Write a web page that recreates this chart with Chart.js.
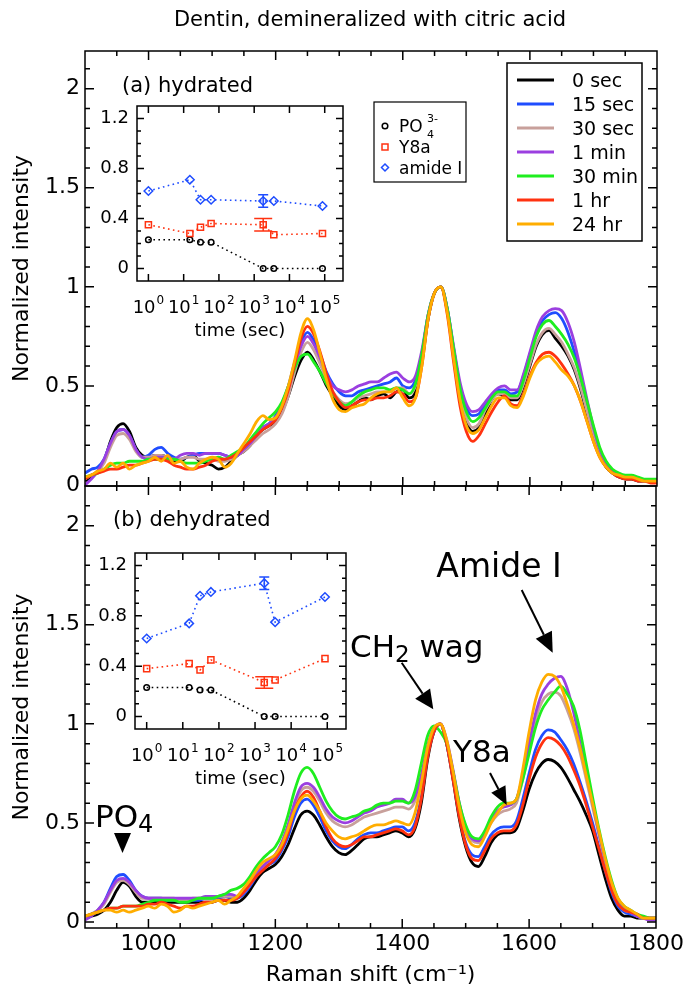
<!DOCTYPE html>
<html>
<head>
<meta charset="utf-8">
<title>Dentin, demineralized with citric acid</title>
<script src="https://cdn.jsdelivr.net/npm/chart.js@4.4.1/dist/chart.umd.min.js"></script>
<style>
  html, body { margin: 0; padding: 0; background: #ffffff; }
  #page { position: relative; width: 687px; height: 992px; overflow: hidden; background: #ffffff; }
  #page canvas, #page svg { position: absolute; left: 0; top: 0; }
</style>
</head>
<body>
<div id="page">
  <canvas id="mainTop" width="687" height="992"></canvas>
  <canvas id="mainBottom" width="687" height="992"></canvas>
  <canvas id="insetTop" width="687" height="992"></canvas>
  <canvas id="insetBottom" width="687" height="992"></canvas>
  <svg id="notes" width="687" height="992" xmlns="http://www.w3.org/2000/svg" font-family="DejaVu Sans, sans-serif"></svg>
</div>
<script>
// ---------------- data ----------------
const shift = [900,910,920,930,940,950,960,970,980,990,
  1000,1010,1020,1030,1040,1050,1060,1070,1080,1090,
  1100,1110,1120,1130,1140,1150,1160,1170,1180,1190,
  1200,1210,1220,1230,1240,1250,1260,1270,1280,1290,
  1300,1310,1320,1330,1340,1350,1360,1370,1380,1390,
  1400,1410,1420,1430,1440,1450,1460,1470,1480,1490,
  1500,1510,1520,1530,1540,1550,1560,1570,1580,1590,
  1600,1610,1620,1630,1640,1650,1660,1670,1680,1690,
  1700,1710,1720,1730,1740,1750,1760,1770,1780,1790,1800];

const seriesNames = ['0 sec', '15 sec', '30 sec', '1 min', '30 min', '1 hr', '24 hr'];
const seriesColors = ['#000000', '#1f4dff', '#c8a09b', '#9b3fe0', '#1fee1f', '#ff3210', '#ffad00'];

// (a) hydrated
const hyd0sec = [.02,.04,.07,.12,.22,.29,.31,.27,.19,.15,
  .14,.15,.15,.14,.12,.12,.14,.15,.12,.11,
  .10,.08,.09,.12,.15,.17,.20,.25,.28,.30,
  .32,.37,.45,.55,.63,.67,.63,.57,.50,.45,
  .40,.38,.40,.42,.44,.43,.45,.46,.44,.47,
  .48,.44,.47,.62,.84,.97,1.00,.88,.66,.45,
  .32,.27,.29,.36,.43,.46,.45,.43,.43,.50,
  .60,.70,.76,.78,.74,.70,.65,.58,.48,.36,
  .24,.15,.09,.06,.04,.03,.03,.02,.02,.02,.02];
const hyd15sec = [.06,.08,.09,.13,.21,.27,.28,.25,.18,.14,
  .15,.18,.19,.16,.14,.13,.14,.15,.16,.16,
  .16,.16,.15,.14,.15,.18,.21,.25,.29,.31,
  .35,.41,.50,.62,.72,.77,.73,.66,.57,.51,
  .47,.45,.45,.47,.48,.49,.50,.51,.52,.54,
  .50,.49,.53,.66,.86,.97,1.00,.89,.69,.50,
  .39,.35,.36,.41,.45,.48,.48,.46,.47,.55,
  .66,.76,.83,.86,.87,.84,.77,.67,.54,.40,
  .27,.17,.10,.07,.05,.04,.04,.03,.02,.02,.02];
const hyd30sec = [.03,.05,.07,.11,.19,.25,.26,.23,.17,.14,
  .14,.15,.15,.14,.13,.13,.14,.14,.13,.13,
  .13,.12,.12,.13,.15,.17,.20,.23,.26,.28,
  .31,.36,.45,.57,.67,.72,.68,.61,.53,.47,
  .43,.41,.42,.44,.45,.46,.47,.47,.47,.49,
  .49,.46,.50,.64,.85,.97,1.00,.88,.67,.47,
  .34,.29,.31,.38,.43,.46,.46,.44,.44,.51,
  .61,.71,.77,.79,.76,.72,.66,.59,.49,.37,
  .25,.16,.10,.06,.05,.04,.04,.03,.02,.02,.02];
const hyd1min = [.00,.03,.07,.13,.21,.27,.28,.25,.18,.14,
  .13,.14,.14,.14,.13,.15,.16,.16,.15,.16,
  .16,.16,.15,.14,.15,.18,.21,.25,.29,.31,
  .34,.40,.49,.60,.70,.75,.71,.64,.56,.50,
  .48,.47,.48,.50,.51,.52,.52,.54,.56,.57,
  .54,.52,.55,.68,.86,.97,1.00,.89,.70,.52,
  .41,.37,.38,.42,.46,.49,.50,.48,.48,.56,
  .67,.78,.85,.88,.89,.88,.82,.72,.58,.43,
  .29,.18,.11,.07,.05,.04,.04,.03,.02,.02,.02];
const hyd30min = [.04,.05,.06,.08,.10,.11,.11,.12,.12,.12,
  .13,.13,.13,.13,.13,.12,.11,.11,.11,.12,
  .13,.14,.13,.15,.17,.19,.23,.27,.31,.34,
  .37,.42,.50,.59,.65,.66,.62,.57,.51,.46,
  .42,.40,.42,.45,.47,.48,.49,.49,.48,.49,
  .48,.46,.51,.66,.86,.97,1.00,.89,.69,.49,
  .37,.32,.34,.39,.44,.47,.47,.45,.45,.53,
  .64,.75,.81,.83,.80,.76,.71,.64,.54,.42,
  .30,.19,.12,.08,.06,.05,.05,.04,.03,.03,.03];
const hyd1hr = [.03,.05,.06,.07,.08,.08,.09,.10,.10,.11,
  .12,.13,.13,.12,.10,.09,.08,.08,.09,.10,
  .12,.13,.13,.14,.16,.19,.22,.25,.28,.30,
  .33,.39,.48,.61,.74,.80,.76,.67,.56,.47,
  .42,.39,.40,.42,.43,.43,.44,.44,.45,.47,
  .46,.42,.44,.60,.84,.97,1.00,.86,.62,.40,
  .27,.22,.25,.31,.37,.42,.45,.41,.40,.46,
  .55,.62,.66,.67,.65,.61,.56,.50,.42,.32,
  .22,.14,.09,.06,.04,.03,.03,.02,.02,.01,.01];
const hyd24hr = [.04,.05,.07,.08,.11,.09,.11,.08,.10,.11,
  .12,.14,.12,.15,.11,.12,.09,.08,.11,.13,
  .14,.13,.09,.11,.16,.21,.26,.32,.35,.33,
  .34,.40,.50,.63,.77,.84,.78,.66,.53,.43,
  .38,.37,.39,.40,.41,.44,.46,.47,.47,.49,
  .44,.40,.44,.60,.84,.97,1.00,.87,.64,.43,
  .30,.26,.28,.34,.40,.44,.44,.40,.39,.45,
  .54,.61,.64,.65,.62,.58,.55,.50,.42,.32,
  .22,.14,.09,.06,.05,.04,.04,.03,.02,.02,.02];

// (b) dehydrated
const dehyd0sec = [.02,.03,.04,.06,.10,.16,.20,.18,.13,.10,
  .10,.10,.11,.10,.10,.10,.10,.10,.10,.10,
  .10,.11,.11,.10,.10,.12,.16,.21,.25,.27,
  .29,.33,.39,.47,.54,.56,.54,.49,.43,.38,
  .35,.34,.36,.39,.42,.43,.43,.44,.45,.46,
  .45,.43,.47,.60,.82,.96,1.00,.90,.72,.52,
  .38,.30,.28,.33,.40,.44,.45,.45,.47,.56,
  .67,.75,.80,.82,.81,.78,.73,.67,.61,.54,
  .46,.34,.22,.12,.06,.03,.03,.02,.02,.02,.02];
const dehyd15sec = [.02,.04,.06,.10,.17,.23,.24,.21,.16,.13,
  .12,.12,.12,.11,.11,.11,.11,.11,.11,.12,
  .12,.12,.13,.12,.12,.14,.18,.23,.27,.29,
  .31,.36,.43,.53,.60,.62,.59,.53,.46,.41,
  .38,.37,.39,.42,.44,.45,.45,.46,.47,.48,
  .48,.46,.50,.63,.84,.96,1.00,.90,.73,.54,
  .40,.34,.33,.38,.44,.47,.48,.48,.51,.62,
  .75,.87,.94,.97,.96,.92,.87,.80,.71,.61,
  .50,.38,.26,.15,.08,.05,.04,.03,.02,.02,.02];
const dehyd30sec = [.02,.04,.06,.09,.15,.20,.21,.19,.15,.12,
  .12,.12,.12,.12,.12,.11,.11,.12,.12,.12,
  .12,.13,.13,.13,.13,.15,.19,.24,.28,.31,
  .34,.40,.48,.58,.66,.68,.66,.61,.55,.51,
  .49,.48,.49,.51,.53,.54,.55,.56,.57,.58,
  .58,.57,.61,.72,.88,.97,1.00,.91,.76,.59,
  .47,.41,.40,.44,.50,.54,.56,.57,.60,.72,
  .88,1.02,1.11,1.15,1.16,1.14,1.07,.98,.86,.72,
  .58,.44,.30,.18,.10,.06,.05,.03,.02,.02,.02];
const dehyd1min = [.01,.03,.06,.10,.16,.21,.22,.20,.16,.13,
  .12,.12,.12,.12,.12,.12,.12,.12,.12,.13,
  .13,.13,.14,.14,.13,.15,.19,.24,.28,.31,
  .34,.40,.49,.60,.68,.70,.68,.63,.57,.53,
  .51,.50,.51,.53,.55,.56,.58,.59,.60,.62,
  .62,.60,.63,.74,.89,.98,1.00,.92,.77,.60,
  .48,.42,.41,.45,.51,.56,.58,.59,.62,.74,
  .90,1.05,1.15,1.20,1.23,1.24,1.18,1.06,.91,.75,
  .60,.45,.31,.19,.11,.07,.05,.03,.02,.01,.01];
const dehyd30min = [.03,.04,.05,.06,.07,.07,.08,.08,.08,.09,
  .10,.11,.11,.11,.11,.10,.10,.11,.12,.12,
  .12,.13,.14,.16,.17,.19,.23,.28,.32,.35,
  .38,.44,.54,.66,.75,.78,.75,.68,.61,.56,
  .53,.52,.53,.54,.56,.57,.59,.60,.60,.61,
  .61,.60,.66,.80,.94,.99,.96,.90,.76,.60,
  .49,.43,.42,.46,.53,.58,.60,.60,.62,.72,
  .85,.98,1.07,1.12,1.16,1.19,1.15,1.09,.97,.80,
  .63,.47,.33,.21,.12,.08,.06,.04,.03,.02,.02];
const dehyd1hr = [.03,.04,.05,.06,.07,.07,.08,.08,.08,.08,
  .09,.09,.10,.09,.08,.07,.08,.08,.09,.10,
  .10,.11,.11,.11,.12,.15,.19,.23,.26,.29,
  .32,.37,.45,.56,.63,.66,.63,.56,.48,.42,
  .39,.38,.39,.41,.43,.43,.44,.45,.46,.47,
  .46,.44,.48,.62,.83,.96,1.00,.90,.72,.53,
  .39,.32,.31,.36,.42,.45,.46,.46,.49,.59,
  .72,.83,.90,.93,.92,.89,.84,.77,.69,.59,
  .48,.37,.26,.16,.09,.06,.05,.04,.02,.02,.02];
const dehyd24hr = [.03,.04,.05,.06,.06,.05,.06,.05,.06,.07,
  .08,.07,.09,.08,.05,.06,.08,.07,.08,.09,
  .10,.11,.09,.11,.13,.17,.21,.26,.30,.32,
  .34,.39,.47,.56,.62,.64,.61,.56,.50,.46,
  .43,.42,.43,.44,.46,.48,.49,.49,.50,.51,
  .50,.49,.55,.70,.88,.98,1.00,.92,.76,.58,
  .45,.39,.38,.43,.50,.55,.59,.60,.62,.77,
  .96,1.12,1.21,1.25,1.24,1.19,1.10,1.00,.88,.74,
  .60,.46,.32,.20,.12,.08,.06,.04,.02,.02,.02];

const hydrated = [hyd0sec, hyd15sec, hyd30sec, hyd1min, hyd30min, hyd1hr, hyd24hr];
const dehydrated = [dehyd0sec, dehyd15sec, dehyd30sec, dehyd1min, dehyd30min, dehyd1hr, dehyd24hr];

const shiftTicks = [1000, 1200, 1400, 1600, 1800];
const intensityTicks = [0, 0.5, 1, 1.5, 2];

// insets: peak ratios vs time
const times = [1, 15, 30, 60, 1800, 3600, 86400];
const po4Hyd   = [0.23, 0.23, 0.21, 0.21, 0.00, 0.00, 0.00];
const y8aHyd   = [0.35, 0.28, 0.33, 0.36, 0.35, 0.27, 0.28];
const amideHyd = [0.62, 0.71, 0.55, 0.55, 0.54, 0.54, 0.50];
const y8aHydErr   = [0, 0, 0, 0, 0.05, 0, 0];
const amideHydErr = [0, 0, 0, 0, 0.05, 0, 0];
const po4Dehyd   = [0.23, 0.23, 0.21, 0.21, 0.00, 0.00, 0.00];
const y8aDehyd   = [0.38, 0.42, 0.37, 0.45, 0.27, 0.29, 0.46];
const amideDehyd = [0.62, 0.74, 0.96, 0.99, 1.06, 0.75, 0.95];
const y8aDehydErr   = [0, 0, 0, 0, 0.045, 0, 0];
const amideDehydErr = [0, 0, 0, 0, 0.05, 0, 0];
const ratioTicks = [0, 0.4, 0.8, 1.2];
const timeTicks = [1, 10, 100, 1000, 10000, 100000];
const insetNames = ['amide I', 'Y8a', 'PO4'];

// ---------------- drawing ----------------
const FONT = '"DejaVu Sans", sans-serif';
Chart.defaults.font.family = FONT;
Chart.defaults.color = '#000';

const mainMinorX = []; for (let v = 950; v < 1800; v += 50) if (v % 200 !== 0) mainMinorX.push(v);
const mainMinorY = []; for (let k = 1; k <= 21; k++) if (k % 5 !== 0) mainMinorY.push(k / 10);
const insetMinorY = []; for (let k = 1; k <= 12; k++) if (k % 4 !== 0) insetMinorY.push(k / 10);

function frameTicks(cfg) {
  return {
    id: 'frameTicks',
    afterDraw(chart) {
      const { ctx, chartArea: a } = chart;
      const x = chart.scales.x, y = chart.scales.y;
      ctx.save();
      ctx.strokeStyle = '#000';
      ctx.lineWidth = cfg.lw;
      ctx.beginPath();
      const seg = (x1, y1, x2, y2) => { ctx.moveTo(x1, y1); ctx.lineTo(x2, y2); };
      const xt = (vals, len) => vals.forEach(v => {
        const p = x.getPixelForValue(v);
        if (p < a.left + 1 || p > a.right - 1) return;
        seg(p, a.bottom, p, a.bottom - len); seg(p, a.top, p, a.top + len);
      });
      const yt = (vals, len) => vals.forEach(v => {
        const p = y.getPixelForValue(v);
        if (p < a.top + 1 || p > a.bottom - 1) return;
        seg(a.left, p, a.left + len, p); seg(a.right, p, a.right - len, p);
      });
      xt(cfg.xMajor, cfg.major); xt(cfg.xMinor, cfg.minor);
      yt(cfg.yMajor, cfg.major); yt(cfg.yMinor, cfg.minor);
      ctx.stroke();
      ctx.strokeRect(a.left, a.top, a.right - a.left, a.bottom - a.top);
      ctx.restore();
      if (cfg.after) cfg.after(chart);
    }
  };
}

function buildMain(id, series, yMin, yMax, area, withX) {
  const xh = withX ? 992 - area.bottom : 20;
  return new Chart(document.getElementById(id), {
    type: 'line',
    data: {
      datasets: series.map((vals, i) => ({
        label: seriesNames[i],
        data: shift.map((x, j) => ({ x: x, y: vals[j] })),
        borderColor: seriesColors[i],
        backgroundColor: seriesColors[i],
        borderWidth: 2.8,
        pointRadius: 0,
        fill: false,
        cubicInterpolationMode: 'monotone',
        order: series.length - i
      }))
    },
    options: {
      responsive: false, animation: false, events: [],
      layout: { padding: { left: 0, top: area.top, right: 687 - area.right, bottom: 992 - area.bottom - xh } },
      plugins: { legend: { display: false }, tooltip: { enabled: false } },
      scales: {
        x: {
          type: 'linear', min: 900, max: 1800,
          grid: { display: false, drawTicks: false }, border: { display: false },
          afterBuildTicks: s => { s.ticks = shiftTicks.map(v => ({ value: v })); },
          ticks: { display: withX, autoSkip: false, maxRotation: 0, padding: 3, font: { size: 22 }, color: '#000', callback: v => String(v) },
          title: { display: withX, text: 'Raman shift (cm⁻¹)', font: { size: 22 }, color: '#000', padding: { top: 0, bottom: 4 } },
          afterFit: s => { s.height = xh; }
        },
        y: {
          type: 'linear', min: yMin, max: yMax,
          grid: { display: false, drawTicks: false }, border: { display: false },
          afterBuildTicks: s => { s.ticks = intensityTicks.map(v => ({ value: v })); },
          ticks: { padding: 5, font: { size: 22 }, color: '#000', callback: v => String(v) },
          title: { display: true, text: 'Normalized intensity', font: { size: 22 }, color: '#000', padding: { top: 9, bottom: 0 } },
          afterFit: s => { s.width = area.left; }
        }
      }
    },
    plugins: [frameTicks({ lw: 1.5, major: 9, minor: 5, xMajor: shiftTicks, xMinor: mainMinorX, yMajor: intensityTicks, yMinor: mainMinorY })]
  });
}

function buildInset(id, area, po4, y8a, amide, y8aErr, amideErr) {
  const xh = 10;
  const ds = (label, vals, color, style, r) => ({
    label: label,
    data: times.map((t, i) => ({ x: t, y: vals[i] })),
    showLine: true,
    borderColor: color, backgroundColor: 'rgba(0,0,0,0)',
    borderWidth: 1.6, borderDash: [1.6, 3.4],
    pointStyle: style, pointRadius: r, pointBorderColor: color,
    pointBackgroundColor: 'rgba(255,255,255,0)', pointBorderWidth: 1.5
  });
  const after = chart => {
    const { ctx, chartArea: a } = chart;
    const x = chart.scales.x, y = chart.scales.y;
    ctx.save();
    // error bars
    [[amide, amideErr, '#1f4dff', 5], [y8a, y8aErr, '#ff3210', 9]].forEach(([vals, errs, color, cap]) => {
      ctx.strokeStyle = color; ctx.lineWidth = 1.5;
      times.forEach((t, i) => {
        if (!errs[i]) return;
        const px = x.getPixelForValue(t);
        const lo = y.getPixelForValue(vals[i] - errs[i]);
        const hi = y.getPixelForValue(vals[i] + errs[i]);
        ctx.beginPath();
        ctx.moveTo(px, lo); ctx.lineTo(px, hi);
        ctx.moveTo(px - cap, lo); ctx.lineTo(px + cap, lo);
        ctx.moveTo(px - cap, hi); ctx.lineTo(px + cap, hi);
        ctx.stroke();
      });
    });
    // decade labels
    ctx.fillStyle = '#000';
    ctx.textBaseline = 'alphabetic';
    ctx.textAlign = 'left';
    timeTicks.forEach(t => {
      const p = x.getPixelForValue(t);
      const sup = String(Math.round(Math.log10(t)));
      ctx.font = '18px ' + FONT; const w1 = ctx.measureText('10').width;
      ctx.font = '12px ' + FONT; const w2 = ctx.measureText(sup).width;
      const left = p - (w1 + w2 + 1) / 2;
      ctx.font = '18px ' + FONT; ctx.fillText('10', left, a.bottom + 32);
      ctx.font = '12px ' + FONT; ctx.fillText(sup, left + w1 + 1, a.bottom + 23);
    });
    ctx.font = '18px ' + FONT;
    ctx.textAlign = 'center';
    ctx.fillText('time (sec)', (a.left + a.right) / 2, a.bottom + 55);
    ctx.restore();
  };
  return new Chart(document.getElementById(id), {
    type: 'scatter',
    data: {
      datasets: [
        ds(insetNames[0], amide, '#1f4dff', 'rectRot', 4.3),
        ds(insetNames[1], y8a, '#ff3210', 'rect', 4.3),
        ds(insetNames[2], po4, '#000000', 'circle', 2.8)
      ]
    },
    options: {
      responsive: false, animation: false, events: [],
      layout: { padding: { left: 0, top: area.top, right: 687 - area.right, bottom: 992 - area.bottom - xh } },
      plugins: { legend: { display: false }, tooltip: { enabled: false } },
      scales: {
        x: {
          type: 'logarithmic', min: 0.475, max: 330000,
          grid: { display: false, drawTicks: false }, border: { display: false },
          ticks: { display: false },
          afterFit: s => { s.height = xh; }
        },
        y: {
          type: 'linear', min: -0.1, max: 1.3,
          grid: { display: false, drawTicks: false }, border: { display: false },
          afterBuildTicks: s => { s.ticks = ratioTicks.map(v => ({ value: v })); },
          ticks: { padding: 8, font: { size: 18 }, color: '#000', callback: v => String(v) },
          afterFit: s => { s.width = area.left; }
        }
      }
    },
    plugins: [frameTicks({ lw: 1.5, major: 7, minor: 4, xMajor: timeTicks, xMinor: [], yMajor: ratioTicks, yMinor: insetMinorY, after: after })]
  });
}

buildMain('mainTop', hydrated, -0.005, 2.19, { left: 85, top: 51, right: 657, bottom: 486 }, false);
buildMain('mainBottom', dehydrated, -0.03, 2.2, { left: 85, top: 486, right: 657, bottom: 928 }, true);
buildInset('insetTop', { left: 137, top: 106, right: 343, bottom: 281 }, po4Hyd, y8aHyd, amideHyd, y8aHydErr, amideHydErr);
buildInset('insetBottom', { left: 135, top: 553, right: 346, bottom: 729 }, po4Dehyd, y8aDehyd, amideDehyd, y8aDehydErr, amideDehydErr);

// ---------------- annotations (svg text) ----------------
function arrow(x1, y1, x2, y2, len, hw) {
  const dx = x2 - x1, dy = y2 - y1, d = Math.hypot(dx, dy);
  const ux = dx / d, uy = dy / d, nx = -uy, ny = ux;
  const bx = x2 - ux * len, by = y2 - uy * len;
  return `<line x1="${x1}" y1="${y1}" x2="${bx}" y2="${by}" stroke="#000" stroke-width="2"/>` +
    `<polygon points="${x2},${y2} ${bx + nx * hw},${by + ny * hw} ${bx - nx * hw},${by - ny * hw}" fill="#000"/>`;
}
let s = '';
s += `<text x="370" y="26" font-size="21" text-anchor="middle">Dentin, demineralized with citric acid</text>`;
s += `<text x="122" y="92" font-size="21">(a) hydrated</text>`;
s += `<text x="113" y="526" font-size="21">(b) dehydrated</text>`;
// main legend
s += `<rect x="507" y="63" width="135" height="178" fill="#fff" stroke="#000" stroke-width="1.5"/>`;
seriesNames.forEach((n, i) => {
  const cy = 80 + 24 * i;
  s += `<line x1="517" y1="${cy}" x2="554" y2="${cy}" stroke="${seriesColors[i]}" stroke-width="3"/>`;
  s += `<text x="572" y="${cy + 7}" font-size="19">${n}</text>`;
});
// inset legend
s += `<rect x="374" y="102" width="92" height="80" fill="#fff" stroke="#000" stroke-width="1.2"/>`;
s += `<circle cx="385" cy="126" r="2.8" fill="none" stroke="#000" stroke-width="1.5"/>`;
s += `<text x="399" y="132" font-size="17">PO</text>`;
s += `<text x="427" y="122" font-size="11">3-</text>`;
s += `<text x="427" y="138" font-size="11">4</text>`;
s += `<rect x="382" y="144" width="6" height="6" fill="none" stroke="#ff3210" stroke-width="1.5"/>`;
s += `<text x="399" y="153" font-size="17">Y8a</text>`;
s += `<polygon points="385,164 388.5,167.5 385,171 381.5,167.5" fill="none" stroke="#1f4dff" stroke-width="1.5"/>`;
s += `<text x="399" y="174" font-size="17">amide I</text>`;
// peak annotations
s += `<text x="499" y="577" font-size="33" text-anchor="middle">Amide I</text>`;
s += arrow(521.7, 590, 552.7, 652.7, 20, 9);
s += `<text x="350" y="657" font-size="31">CH<tspan font-size="23" dy="5">2</tspan><tspan dy="-5"> wag</tspan></text>`;
s += arrow(401.7, 662.7, 433.3, 709.3, 19, 9);
s += `<text x="453" y="762" font-size="31">Y8a</text>`;
s += arrow(490, 773, 506.7, 805, 18, 8);
s += `<text x="95" y="827" font-size="31">PO<tspan font-size="24" dy="5">4</tspan></text>`;
s += `<polygon points="114,833 131,833 122.5,853" fill="#000"/>`;
document.getElementById('notes').innerHTML = s;
</script>
</body>
</html>
